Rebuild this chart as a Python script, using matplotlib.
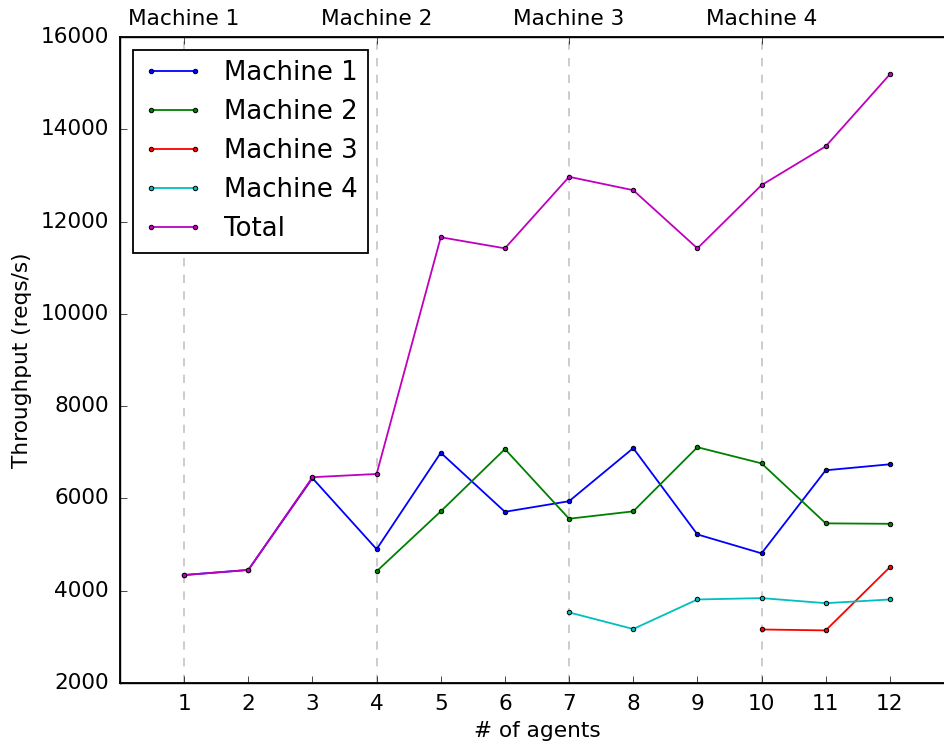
import matplotlib
matplotlib.use("Agg")
import matplotlib.pyplot as plt

plt.style.use("classic")

agents = list(range(1, 13))

machine1 = [4340, 4450, 6440, 4900, 6990, 5710, 5940, 7090, 5220, 4810, 6610, 6740]
machine2_x = [4, 5, 6, 7, 8, 9, 10, 11, 12]
machine2 = [4420, 5720, 7070, 5560, 5720, 7110, 6760, 5460, 5450]
machine3_x = [10, 11, 12]
machine3 = [3160, 3140, 4510]
machine4_x = [7, 8, 9, 10, 11, 12]
machine4 = [3530, 3170, 3810, 3840, 3730, 3810]
total = [4340, 4450, 6460, 6530, 11660, 11420, 12970, 12680, 11420, 12790, 13630, 15190]

machine_starts = [1, 4, 7, 10]
machine_names = ["Machine 1", "Machine 2", "Machine 3", "Machine 4"]

base = 15.6

fig = plt.figure(figsize=(9.44, 7.44), dpi=100, facecolor="white")
ax = fig.add_axes([120 / 944, 61 / 744, 834 / 944, 646 / 744])

for xs in machine_starts:
    ax.axvline(xs, color="#c8c8c8", linestyle="--", linewidth=1.3, dashes=(6, 6), zorder=0)

mk = dict(marker="o", markersize=3.2, markeredgecolor="black", markeredgewidth=0.7, linewidth=1.3)
ax.plot(agents, machine1, color="b", label="Machine 1", **mk)
ax.plot(machine2_x, machine2, color="g", label="Machine 2", **mk)
ax.plot(machine3_x, machine3, color="r", label="Machine 3", **mk)
ax.plot(machine4_x, machine4, color="c", label="Machine 4", **mk)
ax.plot(agents, total, color="m", label="Total", **mk)

ax.set_xlim(0, 13)
ax.set_ylim(2000, 16000)
ax.set_xticks(agents)
ax.set_yticks(range(2000, 16001, 2000))
ax.tick_params(axis="x", top=False, labelsize=base, length=5, pad=8)
ax.tick_params(axis="y", right=False, labelsize=base, length=5, pad=8)
ax.set_xlabel("# of agents", fontsize=base, labelpad=5)
ax.set_ylabel("Throughput (reqs/s)", fontsize=base, labelpad=6)
for s in ax.spines.values():
    s.set_linewidth(1.3)

top = ax.twiny()
top.set_xlim(ax.get_xlim())
top.set_xticks(machine_starts)
top.set_xticklabels(machine_names, fontsize=base)
top.tick_params(axis="x", bottom=False, top=True, length=5, pad=6)

leg = ax.legend(loc="upper left", fontsize=18.7, numpoints=2, borderaxespad=0.5,
                handlelength=2.3, labelspacing=0.5)
leg.get_frame().set_edgecolor("black")
leg.get_frame().set_linewidth(1.3)

fig.savefig("out.png", dpi=100, facecolor="white")
